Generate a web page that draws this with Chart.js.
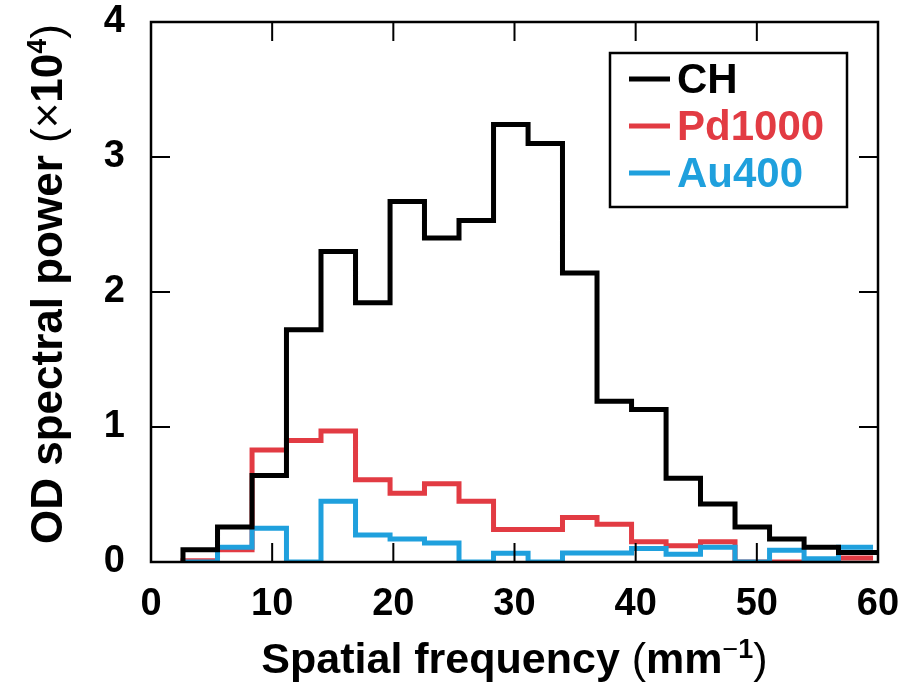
<!DOCTYPE html>
<html>
<head>
<meta charset="utf-8">
<script src="https://cdn.jsdelivr.net/npm/chart.js@4.4.0/dist/chart.umd.min.js"></script>
<style>
  html, body { margin: 0; padding: 0; background: #fff; }
</style>
</head>
<body>
<canvas id="od-spectrum" width="909" height="684"></canvas>
<script>
// bin edges along spatial frequency (mm^-1)
const binEdges = [2.64, 5.49, 8.34, 11.18, 14.03, 16.88, 19.73, 22.57, 25.42, 28.27, 31.12,
                  33.96, 36.81, 39.66, 42.51, 45.35, 48.20, 51.05, 53.90, 56.74, 59.59, 62.44];
// OD spectral power (x10^4) per bin
const chValues = [0.09, 0.26, 0.64, 1.72, 2.30, 1.92, 2.67, 2.40, 2.53, 3.24, 3.10,
                  2.14, 1.19, 1.13, 0.62, 0.43, 0.26, 0.17, 0.11, 0.07, 0.07];
const pdValues = [0.01, 0.09, 0.83, 0.90, 0.97, 0.61, 0.51, 0.58, 0.45, 0.24, 0.24,
                  0.33, 0.28, 0.15, 0.12, 0.15, 0, 0, 0, 0.03];
const auValues = [0, 0.11, 0.25, 0, 0.45, 0.20, 0.17, 0.14, 0, 0.065, 0,
                  0.067, 0.067, 0.10, 0.057, 0.11, 0, 0.087, 0.025, 0.11];

const seriesNames = ['CH', 'Pd1000', 'Au400'];
const seriesColors = ['#000000', '#e23b43', '#1fa0dd'];
const xTicks = [0, 10, 20, 30, 40, 50, 60];
const yTicks = [0, 1, 2, 3, 4];

const FONT = "'Liberation Sans', Arial, Helvetica, sans-serif";

// histogram outline: rise at the first edge, then each bin value held up to its right edge
function steps(values) {
  const pts = [{ x: binEdges[0], y: 0 }];
  values.forEach((v, i) => pts.push({ x: binEdges[i + 1], y: v }));
  return pts;
}

// draw a run of text pieces with mixed weight / superscripts, centred on x
function richText(ctx, parts, size, cx, baseY) {
  const fontOf = p => (p.bold ? 'bold ' : '') + Math.round(size * (p.sup ? 0.62 : 1)) + 'px ' + FONT;
  let total = 0;
  parts.forEach(p => { ctx.font = fontOf(p); total += ctx.measureText(p.t).width; });
  let x = cx - total / 2;
  ctx.textAlign = 'left';
  ctx.textBaseline = 'alphabetic';
  parts.forEach(p => {
    ctx.font = fontOf(p);
    ctx.fillText(p.t, x, baseY - (p.sup ? size * 0.36 : 0));
    x += ctx.measureText(p.t).width;
  });
}

const framePlugin = {
  id: 'frame',
  afterDatasetsDraw(chart) {
    const { ctx, chartArea: a, scales: { x, y } } = chart;
    ctx.save();
    ctx.strokeStyle = '#000';
    ctx.lineWidth = 2.5;
    ctx.strokeRect(a.left, a.top, a.width, a.height);

    // inward ticks on all four sides
    ctx.lineWidth = 2;
    ctx.beginPath();
    x.ticks.forEach(t => {
      const px = x.getPixelForValue(t.value);
      ctx.moveTo(px, a.bottom); ctx.lineTo(px, a.bottom - 19);
      ctx.moveTo(px, a.top); ctx.lineTo(px, a.top + 19);
    });
    y.ticks.forEach(t => {
      const py = y.getPixelForValue(t.value);
      ctx.moveTo(a.left, py); ctx.lineTo(a.left + 19, py);
      ctx.moveTo(a.right, py); ctx.lineTo(a.right - 19, py);
    });
    ctx.stroke();

    // boxed legend, top right
    const bx = a.right - 268, by = a.top + 31;
    ctx.lineWidth = 2.5;
    ctx.fillStyle = '#fff';
    ctx.fillRect(bx, by, 237, 154);
    ctx.strokeRect(bx, by, 237, 154);
    ctx.font = 'bold 42px ' + FONT;
    ctx.textAlign = 'left';
    ctx.textBaseline = 'middle';
    seriesNames.forEach((name, i) => {
      const ly = by + 26 + i * 47;
      ctx.strokeStyle = seriesColors[i];
      ctx.lineWidth = 5;
      ctx.beginPath();
      ctx.moveTo(bx + 19, ly); ctx.lineTo(bx + 60, ly);
      ctx.stroke();
      ctx.fillStyle = seriesColors[i];
      ctx.fillText(name, bx + 67, ly + 2);
    });
    ctx.restore();
  },
  afterDraw(chart) {
    const { ctx, chartArea: a } = chart;
    ctx.save();
    ctx.fillStyle = '#000';
    richText(ctx, [
      { t: 'Spatial frequency ', bold: true },
      { t: '(' },
      { t: 'mm', bold: true },
      { t: '\u2212', sup: true },
      { t: '1', bold: true, sup: true },
      { t: ')' }
    ], 43, (a.left + a.right) / 2, 673);

    ctx.translate(62, (a.top + a.bottom) / 2 - 8);
    ctx.rotate(-Math.PI / 2);
    richText(ctx, [
      { t: 'OD spectral power ', bold: true },
      { t: '(' },
      { t: '\u00d7' },
      { t: '10', bold: true },
      { t: '4', bold: true, sup: true },
      { t: ')' }
    ], 44, 0, 0);
    ctx.restore();
  }
};

const tickFont = { family: FONT, size: 38, weight: 'bold' };

const ctx = document.getElementById('od-spectrum').getContext('2d');
const spectrumChart = new Chart(ctx, {
  type: 'line',
  plugins: [framePlugin],
  data: {
    datasets: [
      { label: seriesNames[0], data: steps(chValues), borderColor: seriesColors[0], borderWidth: 5, order: 0 },
      { label: seriesNames[1], data: steps(pdValues), borderColor: seriesColors[1], borderWidth: 5, order: 2 },
      { label: seriesNames[2], data: steps(auValues), borderColor: seriesColors[2], borderWidth: 5, order: 1 }
    ].map(d => Object.assign(d, {
      stepped: 'after',
      fill: false,
      pointRadius: 0,
      borderJoinStyle: 'miter',
      borderCapStyle: 'butt',
      clip: { left: 0, right: 0, top: 6, bottom: 0 }
    }))
  },
  options: {
    responsive: false,
    animation: false,
    devicePixelRatio: 1,
    layout: { padding: { top: 22, right: 31, left: 0, bottom: 0 } },
    plugins: {
      legend: { display: false },
      tooltip: { enabled: false }
    },
    scales: {
      x: {
        type: 'linear',
        min: 0,
        max: 60,
        afterBuildTicks: sc => { sc.ticks = xTicks.map(v => ({ value: v })); },
        afterFit: sc => { sc.height = 122; sc.paddingLeft = 0; sc.paddingRight = 0; },
        grid: { display: false },
        border: { display: false },
        ticks: { font: tickFont, color: '#000', padding: 12, maxRotation: 0 }
      },
      y: {
        type: 'linear',
        min: 0,
        max: 4,
        afterBuildTicks: sc => { sc.ticks = yTicks.map(v => ({ value: v })); },
        afterFit: sc => { sc.width = 151; sc.paddingTop = 0; sc.paddingBottom = 0; },
        grid: { display: false },
        border: { display: false },
        ticks: { font: tickFont, color: '#000', padding: 18 }
      }
    }
  }
});
</script>
</body>
</html>
